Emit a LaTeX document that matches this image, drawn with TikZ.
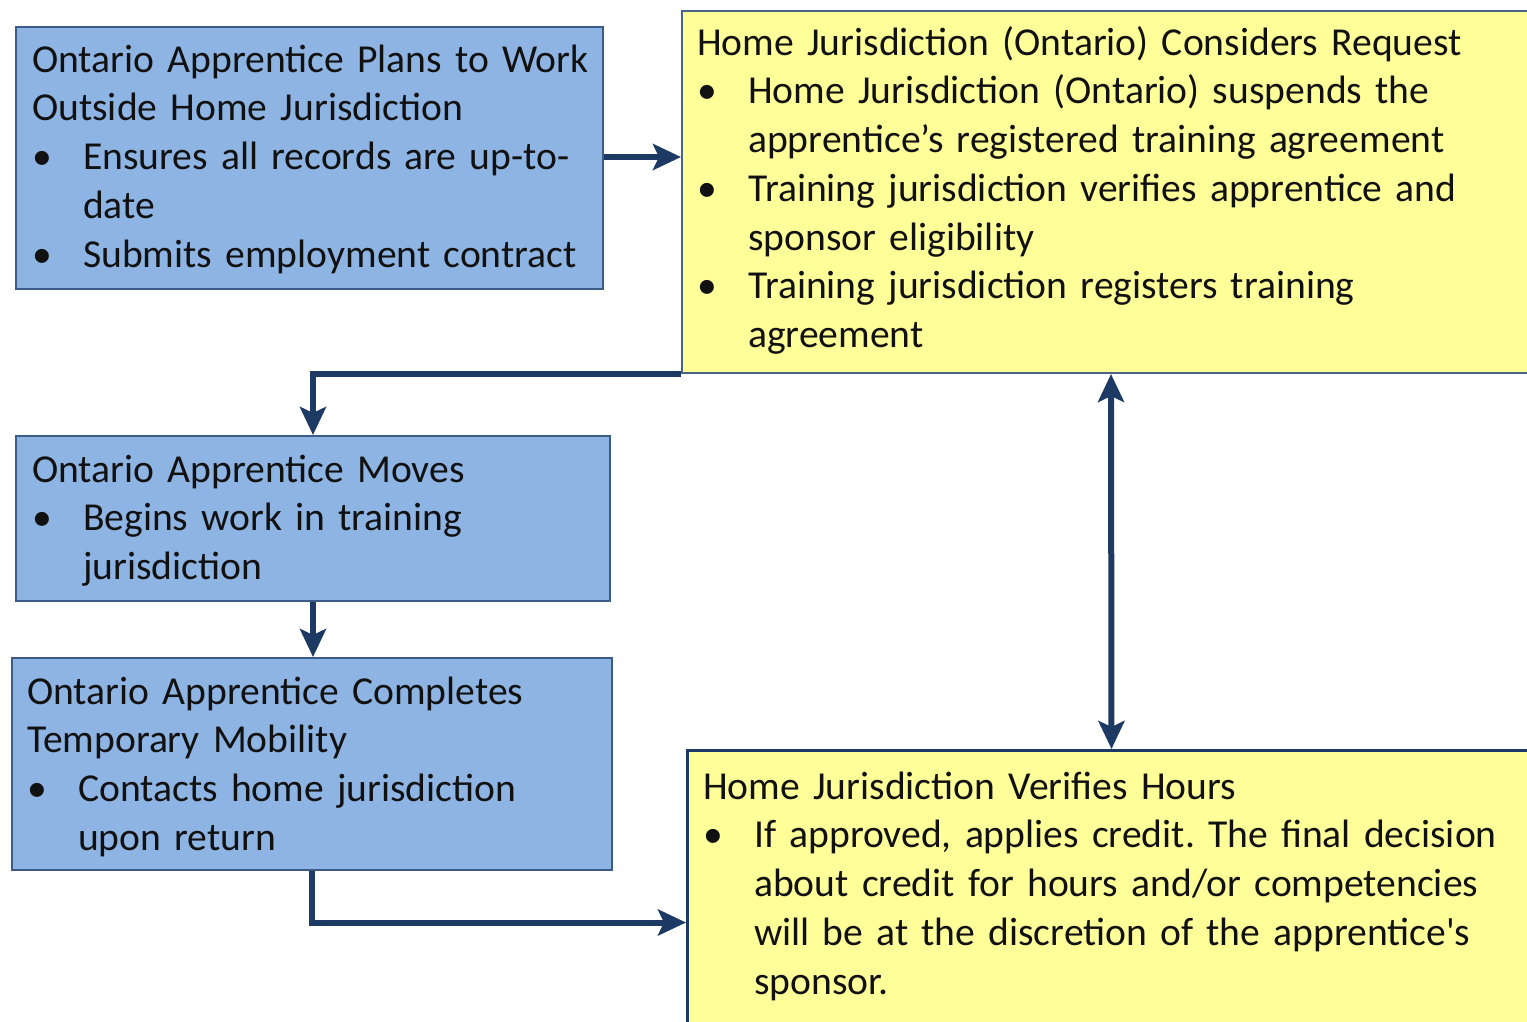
\documentclass[tikz,border=0pt]{standalone}
\usepackage{fontspec}
\setmainfont{Carlito}
\usetikzlibrary{arrows.meta}
\definecolor{bluefill}{HTML}{8EB4E3}
\definecolor{blueedge}{HTML}{3A5C86}
\definecolor{yellowfill}{HTML}{FFFF99}
\definecolor{yellowedge}{HTML}{4A6484}
\definecolor{arrowcol}{HTML}{1C3A63}
\definecolor{textcol}{HTML}{111111}
\newcommand{\nl}{\unskip\hfil\break}
\newcommand{\bul}[1]{\par\hangindent=51pt\hangafter=1\noindent\makebox[51pt][l]{•}#1\par}
\newcommand{\firstline}[1]{\noindent\strut #1}
\tikzset{
  x=1pt, y=-1pt,
  bluebox/.style={draw=blueedge, line width=2pt, fill=bluefill, anchor=north west, inner sep=0pt},
  yellowbox/.style={draw=yellowedge, line width=2pt, fill=yellowfill, anchor=north west, inner sep=0pt},
  boxtext/.style={anchor=north west, inner sep=0pt, text width=820pt, align=left, text=textcol,
    font=\fontsize{39.6}{48.75}\selectfont\frenchspacing},
  conn/.style={draw=arrowcol, line width=6pt, line join=miter, -{Stealth[length=28pt,width=26pt,inset=6pt]}},
  dconn/.style={draw=arrowcol, line width=6pt, {Stealth[length=28pt,width=26pt,inset=6pt]}-{Stealth[length=28pt,width=26pt,inset=6pt]}}
}
\begin{document}
\begin{tikzpicture}
\useasboundingbox (0,0) rectangle (1527,1021);
% boxes
\node[bluebox, minimum width=587pt, minimum height=262pt] (A) at (15,26) {};
\node[yellowbox, minimum width=858pt, minimum height=362pt] (B) at (681,10) {};
\node[bluebox, minimum width=594pt, minimum height=165pt] (C) at (15,435) {};
\node[bluebox, minimum width=600pt, minimum height=212pt] (D) at (11,657) {};
\node[yellowbox, minimum width=848pt, minimum height=344pt, line width=3pt, draw=arrowcol] (E) at (686,749) {};
% texts (north = baseline - strut height)
\node[boxtext] (tA) at (32,37.9) {\firstline{Ontario Apprentice Plans to Work}\nl Outside Home Jurisdiction
\bul{Ensures all records are up-to-\nl date}
\bul{Submits employment contract}};
\node[boxtext] (tB) at (697,20.9) {\firstline{Home Jurisdiction (Ontario) Considers Request}
\bul{Home Jurisdiction (Ontario) suspends the\nl apprentice’s registered training agreement}
\bul{Training jurisdiction verifies apprentice and\nl sponsor eligibility}
\bul{Training jurisdiction registers training\nl agreement}};
\node[boxtext] (tC) at (32,447.9) {\firstline{Ontario Apprentice Moves}
\bul{Begins work in training\nl jurisdiction}};
\node[boxtext] (tD) at (27,669.9) {\firstline{Ontario Apprentice Completes}\nl Temporary Mobility
\bul{Contacts home jurisdiction\nl upon return}};
\node[boxtext] (tE) at (703,764.9) {\firstline{Home Jurisdiction Verifies Hours}
\bul{If approved, applies credit. The final decision\nl about credit for hours and/or competencies\nl will be at the discretion of the apprentice\textquotesingle s\nl sponsor.}};
% connectors
\draw[conn] (A.east |- 0,157) -- (B.west |- 0,157);
\draw[conn] (B.south west) -| (C.north);
\draw[conn] (C.south) -- (C.south |- D.north);
\draw[conn] (D.south) |- (E.west);
\draw[dconn] (B.south) -- (E.north);
\end{tikzpicture}
\end{document}
